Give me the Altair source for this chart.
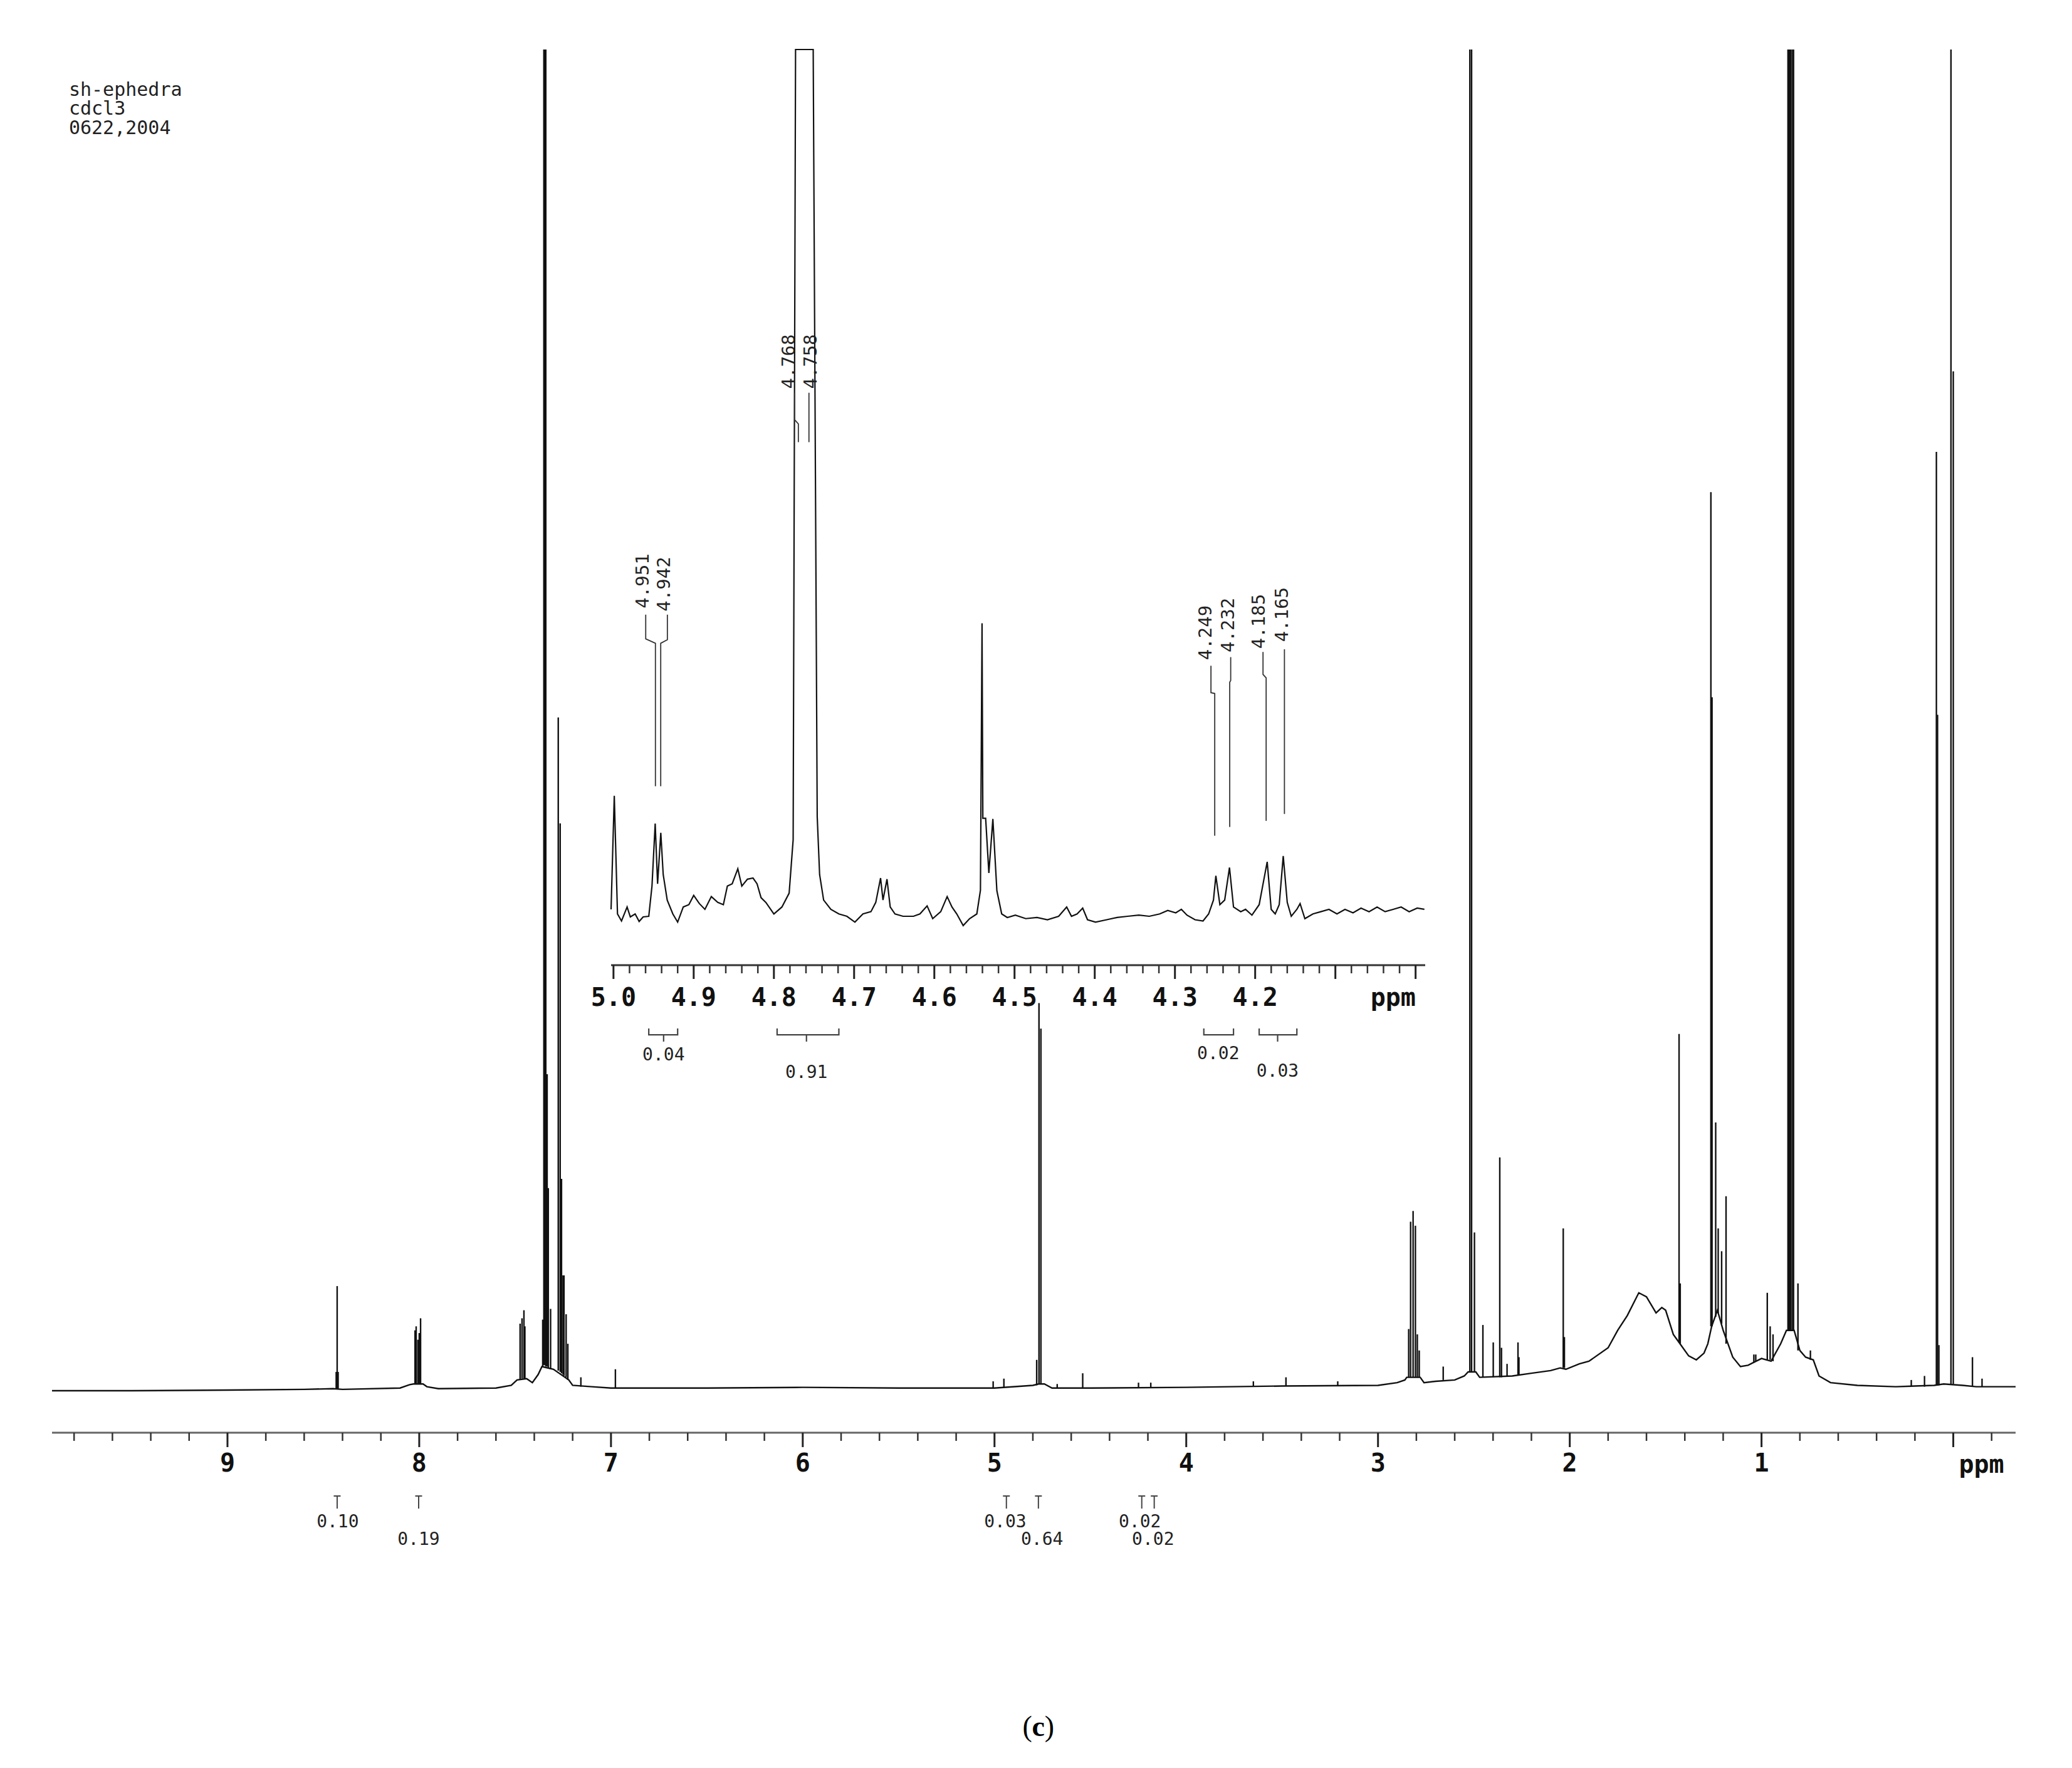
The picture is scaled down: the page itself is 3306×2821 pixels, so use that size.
import altair as alt
import pandas as pd

# ---------------- data ----------------
# main spectrum: broad baseline envelope (ppm, intensity)
BASE_PPM = [9.915, 9.5, 9.0, 8.6, 8.45, 8.40, 8.10, 8.05, 8.03, 7.98, 7.96, 7.90, 7.60, 7.52, 7.49,
            7.44, 7.41, 7.38, 7.36, 7.30, 7.22, 7.20, 7.10, 7.00, 6.50, 6.00, 5.50, 5.00, 4.80, 4.77,
            4.74, 4.70, 4.50, 4.00, 3.50, 3.00, 2.90, 2.86, 2.85, 2.78, 2.76, 2.70, 2.60, 2.55, 2.53,
            2.49, 2.47, 2.30, 2.20, 2.10, 2.05, 2.02, 1.95, 1.90, 1.80, 1.75, 1.70, 1.64, 1.60, 1.55,
            1.52, 1.50, 1.46, 1.43, 1.38, 1.34, 1.30, 1.28, 1.26, 1.23, 1.20, 1.15, 1.11, 1.07, 1.00,
            0.95, 0.90, 0.87, 0.83, 0.80, 0.77, 0.73, 0.70, 0.64, 0.50, 0.30, 0.10, 0.05, -0.05, -0.12,
            -0.325]
BASE_INT = [0.0, 0.0, 0.05, 0.1, 0.15, 0.1, 0.2, 0.45, 0.5, 0.5, 0.3, 0.15, 0.2, 0.4, 0.8,
            0.9, 0.6, 1.2, 1.8, 1.6, 0.8, 0.4, 0.3, 0.2, 0.2, 0.25, 0.2, 0.2, 0.4, 0.5,
            0.5, 0.2, 0.2, 0.25, 0.35, 0.4, 0.6, 0.8, 1.0, 1.0, 0.6, 0.7, 0.8, 1.1, 1.4,
            1.4, 1.0, 1.1, 1.3, 1.5, 1.7, 1.6, 2.0, 2.2, 3.2, 4.5, 5.6, 7.3, 7.0, 5.8,
            6.2, 6.0, 4.2, 3.6, 2.6, 2.3, 2.8, 3.5, 4.8, 6.0, 4.5, 2.5, 1.8, 1.9, 2.4,
            2.2, 3.5, 4.5, 4.5, 3.0, 2.5, 2.3, 1.1, 0.6, 0.4, 0.3, 0.4, 0.5, 0.4, 0.3,
            0.3]

# main spectrum: peak lines (position, foot, top); tops of clipped peaks read as 100
PEAK_PPM = [8.433, 8.428, 8.423, 8.022, 8.016, 8.007, 8.000, 7.993, 7.474, 7.464, 7.454, 7.449,
            7.356, 7.350, 7.345, 7.340, 7.333, 7.327, 7.315, 7.275, 7.265, 7.258, 7.250, 7.245,
            7.234, 7.225, 7.157, 6.977, 5.007, 4.951, 4.780, 4.768, 4.758, 4.673, 4.540, 4.249,
            4.185, 3.650, 3.480, 3.210, 2.840, 2.830, 2.817, 2.805, 2.795, 2.785, 2.660, 2.521,
            2.512, 2.497, 2.453, 2.399, 2.365, 2.356, 2.327, 2.270, 2.265, 2.034, 2.028, 1.430,
            1.424, 1.264, 1.258, 1.239, 1.226, 1.208, 1.185, 1.040, 1.030, 0.970, 0.955, 0.940,
            0.862, 0.855, 0.848, 0.840, 0.833, 0.810, 0.745, 0.219, 0.150, 0.088, 0.082, 0.075,
            0.012, 0.000, -0.100, -0.150]
PEAK_BASE = [0.15, 0.15, 0.15, 0.5, 0.5, 0.5, 0.5, 0.5, 0.8, 0.9, 0.9, 0.9,
             1.8, 1.9, 1.9, 1.8, 1.8, 1.7, 1.6, 1.5, 1.4, 1.3, 1.2, 1.1,
             1.0, 0.8, 0.3, 0.2, 0.2, 0.2, 0.4, 0.5, 0.5, 0.2, 0.2, 0.25,
             0.25, 0.35, 0.35, 0.4, 1.0, 1.0, 1.0, 1.0, 1.0, 1.0, 0.8, 1.4,
             1.4, 1.4, 1.0, 1.0, 1.0, 1.0, 1.1, 1.2, 1.2, 1.7, 1.7, 3.6,
             3.5, 4.8, 4.8, 5.5, 5.8, 5.0, 3.5, 2.1, 2.2, 2.3, 2.3, 2.2,
             4.5, 4.5, 4.5, 4.5, 4.5, 3.0, 2.3, 0.3, 0.3, 0.4, 0.4, 0.4,
             0.5, 0.5, 0.3, 0.3]
PEAK_TOP = [1.4, 7.8, 1.4, 4.5, 4.8, 3.8, 4.3, 5.4, 5.0, 5.4, 6.0, 4.8,
            5.3, 100, 100, 100, 23.6, 15.1, 6.1, 50.2, 42.3, 15.8, 8.6, 8.6,
            5.7, 3.5, 1.0, 1.6, 0.7, 0.9, 2.3, 28.9, 27.0, 0.5, 1.3, 0.6,
            0.6, 0.7, 1.0, 0.7, 4.6, 12.6, 13.4, 12.3, 4.2, 3.0, 1.8, 100,
            100, 11.8, 4.9, 3.6, 17.4, 3.2, 2.0, 3.6, 2.5, 12.1, 4.0, 26.6,
            8.0, 67.0, 51.7, 20.0, 12.1, 10.4, 14.5, 2.7, 2.7, 7.3, 4.8, 4.2,
            100, 100, 100, 100, 100, 8.0, 3.0, 0.8, 1.1, 70.0, 50.4, 3.4,
            100, 76.0, 2.5, 0.9]

# inset expansion 5.0 - 4.0 ppm (ppm, intensity)
INSET_PPM = [5.003, 4.999, 4.995, 4.990, 4.983, 4.979, 4.973, 4.968, 4.963, 4.956, 4.952, 4.948,
             4.945, 4.941, 4.938, 4.933, 4.926, 4.920, 4.913, 4.906, 4.900, 4.893, 4.886, 4.878,
             4.870, 4.863, 4.858, 4.852, 4.845, 4.840, 4.833, 4.826, 4.821, 4.816, 4.810, 4.800,
             4.790, 4.781, 4.776, 4.773, 4.751, 4.746, 4.743, 4.738, 4.729, 4.719, 4.709, 4.699,
             4.689, 4.679, 4.673, 4.667, 4.664, 4.659, 4.655, 4.649, 4.639, 4.626, 4.618, 4.609,
             4.602, 4.592, 4.584, 4.578, 4.572, 4.564, 4.556, 4.547, 4.5425, 4.5405, 4.5395, 4.536,
             4.532, 4.527, 4.522,
             4.516, 4.509, 4.499, 4.486, 4.472, 4.459, 4.445, 4.435, 4.429, 4.422, 4.415, 4.409,
             4.399, 4.385, 4.372, 4.359, 4.345, 4.332, 4.319, 4.309, 4.299, 4.292, 4.285, 4.275,
             4.265, 4.258, 4.252, 4.249, 4.244, 4.238, 4.232, 4.227, 4.218, 4.212, 4.204, 4.195,
             4.185, 4.180, 4.175, 4.170, 4.165, 4.160, 4.155, 4.148, 4.144, 4.138, 4.128, 4.118,
             4.108, 4.098, 4.088, 4.078, 4.068, 4.058, 4.048, 4.038, 4.028, 4.018, 4.008, 3.998,
             3.989]
INSET_INT = [0.80, 13.9, 0.27, -0.54, 1.07, -0.07, 0.27, -0.60, -0.07, 0.00, 3.48, 10.70,
             3.75, 9.63, 4.81, 1.87, 0.27, -0.67, 1.07, 1.34, 2.41, 1.47, 0.80, 2.27,
             1.60, 1.34, 3.48, 3.75, 5.48, 3.48, 4.28, 4.41, 3.75, 2.14, 1.60, 0.27,
             1.07, 2.67, 8.83, 100, 100, 11.50, 4.81, 1.87, 0.80, 0.27, 0.00, -0.67,
             0.27, 0.53, 1.60, 4.41, 1.87, 4.28, 1.07, 0.27, 0.00, 0.00, 0.27, 1.20,
             -0.27, 0.53, 2.27, 1.07, 0.27, -1.07, -0.27, 0.27, 3.0, 33.8, 11.3, 11.3,
             5.0, 11.23, 2.94,
             0.27, -0.14, 0.13, -0.27, -0.14, -0.40, 0.00, 1.07, 0.00, 0.27, 0.94, -0.40,
             -0.67, -0.40, -0.14, 0.00, 0.13, 0.00, 0.27, 0.67, 0.40, 0.80, 0.13, -0.40,
             -0.54, 0.27, 1.87, 4.68, 1.34, 1.87, 5.62, 1.07, 0.53, 0.80, 0.13, 1.34,
             6.28, 0.80, 0.27, 1.34, 6.95, 1.60, 0.00, 0.80, 1.47, -0.27, 0.27, 0.53,
             0.80, 0.27, 0.80, 0.40, 0.94, 0.53, 1.07, 0.53, 0.80, 1.07, 0.53, 0.94,
             0.80]

# axis ticks
MAIN_MAJOR = [9, 8, 7, 6, 5, 4, 3, 2, 1, 0]
MAIN_MINOR = [9.8, 9.6, 9.4, 9.2, 8.8, 8.6, 8.4, 8.2, 7.8, 7.6, 7.4, 7.2, 6.8, 6.6, 6.4, 6.2,
              5.8, 5.6, 5.4, 5.2, 4.8, 4.6, 4.4, 4.2, 3.8, 3.6, 3.4, 3.2, 2.8, 2.6, 2.4, 2.2,
              1.8, 1.6, 1.4, 1.2, 0.8, 0.6, 0.4, 0.2, -0.2]
INSET_MAJOR = [5.0, 4.9, 4.8, 4.7, 4.6, 4.5, 4.4, 4.3, 4.2, 4.1, 4.0]
INSET_LABELLED = [5.0, 4.9, 4.8, 4.7, 4.6, 4.5, 4.4, 4.3, 4.2]
INSET_MINOR = [4.98, 4.96, 4.94, 4.92, 4.88, 4.86, 4.84, 4.82, 4.78, 4.76, 4.74, 4.72,
               4.68, 4.66, 4.64, 4.62, 4.58, 4.56, 4.54, 4.52, 4.48, 4.46, 4.44, 4.42,
               4.38, 4.36, 4.34, 4.32, 4.28, 4.26, 4.24, 4.22, 4.18, 4.16, 4.14, 4.12,
               4.08, 4.06, 4.04, 4.02]

HEADER_LINES = ["sh-ephedra", "cdcl3", "0622,2004"]

MAIN_INTEGRALS = ["0.10", "0.19", "0.03", "0.64", "0.02", "0.02"]
MAIN_INTEGRAL_PPM = [8.428, 8.003, 4.938, 4.771, 4.232, 4.167]

INSET_PEAK_LABELS = ["4.951", "4.942", "4.768", "4.758", "4.249", "4.232", "4.185", "4.165"]
INSET_INTEGRALS = ["0.04", "0.91", "0.02", "0.03"]
INSET_INTEGRAL_FROM = [4.956, 4.796, 4.264, 4.195]
INSET_INTEGRAL_TO = [4.920, 4.719, 4.227, 4.148]

# ---------------- layout (annotation anchors, in axis units) ----------------
W, H = 3133, 2207
MONO = "DejaVu Sans Mono"
INK = "#111111"

X_MAIN = alt.Scale(domain=[-0.325, 9.915], reverse=True, nice=False, zero=False)
Y_MAIN = alt.Scale(domain=[-3.131, 100], nice=False, zero=False)
X_IN = alt.Scale(domain=[3.988, 5.003], range=[2191, 892], nice=False, zero=False)
Y_IN = alt.Scale(domain=[0, 100], range=[1383, 0], nice=False, zero=False)

MAIN_AXIS_Y = -3.131
MAIN_MAJOR_TICK_Y = -4.206
MAIN_MINOR_TICK_Y = -3.74
MAIN_LABEL_Y = -5.47
HEADER_X, HEADER_Y = 9.827, [96.96, 95.56, 94.11]
MAIN_INT_LABEL_X = [8.425, 8.003, 4.944, 4.752, 4.242, 4.173]
MAIN_INT_LABEL_Y = [-9.81, -11.12, -9.81, -11.12, -9.81, -11.12]
MAIN_INT_MARK_Y = (-7.85, -8.79)
PPM_MAIN = (-0.147, -5.56)
CAPTION_Y = -25.09
CAPTION_X = {"(": 4.8284, "c": 4.7712, ")": 4.714}

INSET_AXIS_Y = -5.64
INSET_MAJOR_TICK_Y = -7.23
INSET_MINOR_TICK_Y = -6.58
INSET_LABEL_AXIS_Y = -9.45
INSET_LABEL_X = [4.9633, 4.9367, 4.7808, 4.7539, 4.2617, 4.2330, 4.1949, 4.1664]
INSET_LABEL_Y = [38.68, 38.32, 64.0, 64.0, 32.72, 33.59, 34.02, 34.81]
LEADERS = [
    [(4.9598, 34.8), (4.9598, 32.0), (4.9477, 31.5), (4.9477, 15.0)],
    [(4.9328, 34.8), (4.9328, 31.9), (4.9411, 31.5), (4.9411, 15.0)],
    [(4.7742, 60.4), (4.7742, 57.3), (4.7695, 56.8), (4.7695, 54.7)],
    [(4.7563, 60.4), (4.7563, 57.3), (4.7563, 54.7)],
    [(4.2551, 28.9), (4.2551, 25.8), (4.2504, 25.7), (4.2504, 9.3)],
    [(4.2305, 29.9), (4.2305, 27.2), (4.2317, 27.0), (4.2317, 10.3)],
    [(4.1902, 30.5), (4.1902, 27.9), (4.1863, 27.5), (4.1863, 11.0)],
    [(4.1635, 30.8), (4.1635, 11.8)],
]
BRACKET_END_Y, BRACKET_BAR_Y, BRACKET_TICK_Y = -12.94, -13.67, -14.46
INSET_INT_LABEL_X = [4.9375, 4.7594, 4.246, 4.172]
INSET_INT_LABEL_Y = [-16.05, -18.08, -15.91, -17.93]
INSET_INT_TICK = [True, True, False, True]
PPM_INSET = (4.028, -9.45)


def xm(f="x"):
    return alt.X(f"{f}:Q", scale=X_MAIN, axis=None)


def ym(f="y"):
    return alt.Y(f"{f}:Q", scale=Y_MAIN, axis=None)


def xi(f="x"):
    return alt.X(f"{f}:Q", scale=X_IN, axis=None)


def yi(f="y"):
    return alt.Y(f"{f}:Q", scale=Y_IN, axis=None)


def text_layer(df, xf, yf, **kw):
    props = dict(align="center", baseline="middle", font=MONO, fontSize=28, color="#222222")
    props.update(kw)
    return alt.Chart(df).mark_text(**props).encode(x=xf(), y=yf(), text="t:N")


# ---------------- main spectrum ----------------
base_line = alt.Chart(pd.DataFrame({"x": BASE_PPM, "y": BASE_INT})).mark_line(
    color=INK, strokeWidth=2.4).encode(x=xm(), y=ym())

peaks = alt.Chart(pd.DataFrame({"x": PEAK_PPM, "b": PEAK_BASE, "t": PEAK_TOP})).mark_rule(
    color=INK, strokeWidth=2.4).encode(x=xm(), y=ym("b"), y2="t:Q")

# main ppm axis (domain line, ticks, labels) drawn through the main scales
main_domain = alt.Chart(pd.DataFrame({"a": [X_MAIN.domain[0]], "b": [X_MAIN.domain[1]],
                                      "y": [MAIN_AXIS_Y]})).mark_rule(
    color="#666666", strokeWidth=3).encode(x=xm("a"), x2="b:Q", y=ym())
main_major = alt.Chart(pd.DataFrame({"x": MAIN_MAJOR, "a": MAIN_AXIS_Y, "b": MAIN_MAJOR_TICK_Y})
                       ).mark_rule(color="#222222", strokeWidth=3).encode(x=xm(), y=ym("a"), y2="b:Q")
main_minor = alt.Chart(pd.DataFrame({"x": MAIN_MINOR, "a": MAIN_AXIS_Y, "b": MAIN_MINOR_TICK_Y})
                       ).mark_rule(color="#333333", strokeWidth=2.5).encode(x=xm(), y=ym("a"), y2="b:Q")
main_labels = text_layer(pd.DataFrame({"t": [str(v) for v in MAIN_MAJOR if v != 0],
                                       "x": [v for v in MAIN_MAJOR if v != 0],
                                       "y": MAIN_LABEL_Y}), xm, ym,
                         fontSize=40, fontWeight="bold", color=INK)
ppm_main = text_layer(pd.DataFrame({"t": ["ppm"], "x": [PPM_MAIN[0]], "y": [PPM_MAIN[1]]}), xm, ym,
                      fontSize=40, fontWeight="bold", color=INK)

header = text_layer(pd.DataFrame({"t": HEADER_LINES, "x": HEADER_X, "y": HEADER_Y}), xm, ym,
                    align="left", fontSize=30)

int_labels = text_layer(pd.DataFrame({"t": MAIN_INTEGRALS, "x": MAIN_INT_LABEL_X,
                                      "y": MAIN_INT_LABEL_Y}), xm, ym)
int_stems = alt.Chart(pd.DataFrame({"x": MAIN_INTEGRAL_PPM, "a": MAIN_INT_MARK_Y[0],
                                    "b": MAIN_INT_MARK_Y[1]})).mark_rule(
    color="#444444", strokeWidth=2).encode(x=xm(), y=ym("a"), y2="b:Q")
int_arms = alt.Chart(pd.DataFrame({"a": [p + 0.018 for p in MAIN_INTEGRAL_PPM],
                                   "b": [p - 0.018 for p in MAIN_INTEGRAL_PPM],
                                   "y": MAIN_INT_MARK_Y[0]})).mark_rule(
    color="#444444", strokeWidth=2).encode(x=xm("a"), x2="b:Q", y=ym())

cap_paren = text_layer(pd.DataFrame({"t": ["(", ")"], "x": [CAPTION_X["("], CAPTION_X[")"]],
                                     "y": CAPTION_Y}), xm, ym,
                       font="Liberation Serif", fontSize=46, color="#000000")
cap_c = text_layer(pd.DataFrame({"t": ["c"], "x": [CAPTION_X["c"]], "y": [CAPTION_Y]}), xm, ym,
                   font="Liberation Serif", fontSize=46, fontWeight="bold", color="#000000")

main = alt.layer(base_line, peaks, main_domain, main_major, main_minor, main_labels, ppm_main,
                 header, int_labels, int_stems, int_arms, cap_paren, cap_c)

# ---------------- inset ----------------
inset_trace = alt.Chart(pd.DataFrame({"x": INSET_PPM, "y": INSET_INT})).mark_line(
    color=INK, strokeWidth=2.2).encode(x=xi(), y=yi())

in_domain = alt.Chart(pd.DataFrame({"a": [X_IN.domain[0]], "b": [X_IN.domain[1]],
                                    "y": [INSET_AXIS_Y]})).mark_rule(
    color="#333333", strokeWidth=3).encode(x=xi("a"), x2="b:Q", y=yi())
in_major = alt.Chart(pd.DataFrame({"x": INSET_MAJOR, "a": INSET_AXIS_Y, "b": INSET_MAJOR_TICK_Y})
                     ).mark_rule(color="#222222", strokeWidth=3).encode(x=xi(), y=yi("a"), y2="b:Q")
in_minor = alt.Chart(pd.DataFrame({"x": INSET_MINOR, "a": INSET_AXIS_Y, "b": INSET_MINOR_TICK_Y})
                     ).mark_rule(color="#333333", strokeWidth=2.5).encode(x=xi(), y=yi("a"), y2="b:Q")
in_labels = text_layer(pd.DataFrame({"t": [f"{v:.1f}" for v in INSET_LABELLED], "x": INSET_LABELLED,
                                     "y": INSET_LABEL_AXIS_Y}), xi, yi,
                       fontSize=40, fontWeight="bold", color=INK)
ppm_in = text_layer(pd.DataFrame({"t": ["ppm"], "x": [PPM_INSET[0]], "y": [PPM_INSET[1]]}), xi, yi,
                    fontSize=40, fontWeight="bold", color=INK)

peak_labels = text_layer(pd.DataFrame({"t": INSET_PEAK_LABELS, "x": INSET_LABEL_X,
                                       "y": INSET_LABEL_Y}), xi, yi, angle=270, fontSize=29)

rows = []
for i, pts in enumerate(LEADERS):
    for k, (px, py) in enumerate(pts):
        rows.append({"id": i, "k": k, "x": px, "y": py})
leaders = alt.Chart(pd.DataFrame(rows)).mark_line(color="#333333", strokeWidth=1.8).encode(
    x=xi(), y=yi(), detail="id:N", order="k:Q")

brows = []
for i, (a, b) in enumerate(zip(INSET_INTEGRAL_FROM, INSET_INTEGRAL_TO)):
    for k, (px, py) in enumerate([(a, BRACKET_END_Y), (a, BRACKET_BAR_Y),
                                  (b, BRACKET_BAR_Y), (b, BRACKET_END_Y)]):
        brows.append({"id": i, "k": k, "x": px, "y": py})
brackets = alt.Chart(pd.DataFrame(brows)).mark_line(color="#444444", strokeWidth=2.2).encode(
    x=xi(), y=yi(), detail="id:N", order="k:Q")

ticks_df = pd.DataFrame({"x": [x for x, t in zip(INSET_INT_LABEL_X, INSET_INT_TICK) if t],
                         "a": BRACKET_BAR_Y, "b": BRACKET_TICK_Y})
bracket_ticks = alt.Chart(ticks_df).mark_rule(color="#444444", strokeWidth=2.2).encode(
    x=xi(), y=yi("a"), y2="b:Q")

inset_int_labels = text_layer(pd.DataFrame({"t": INSET_INTEGRALS, "x": INSET_INT_LABEL_X,
                                            "y": INSET_INT_LABEL_Y}), xi, yi)

inset = alt.layer(inset_trace, in_domain, in_major, in_minor, in_labels, ppm_in, leaders,
                  peak_labels, brackets, bracket_ticks, inset_int_labels)

chart = alt.layer(main, inset).resolve_scale(x="independent", y="independent").properties(
    width=W, height=H, padding={"left": 70, "top": 66, "right": 10, "bottom": 10},
).configure_view(stroke=None)

chart.save("out.html", embed_options={"renderer": "svg", "actions": False})
